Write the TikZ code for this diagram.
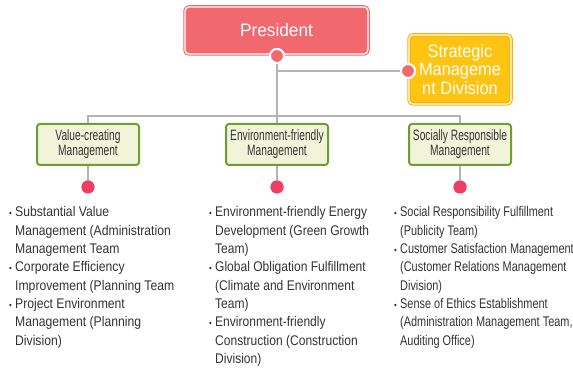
\documentclass[tikz,border=0pt]{standalone}
\usepackage{fontspec}
\setmainfont{Liberation Sans}
\newfontfamily\leftfont[FakeStretch=0.87]{Liberation Sans}
\newfontfamily\midfont[FakeStretch=0.86]{Liberation Sans}
\newfontfamily\rightfont[FakeStretch=0.78]{Liberation Sans}
\newfontfamily\boxfont[FakeStretch=0.68]{Liberation Sans}
\newfontfamily\presfont[FakeStretch=0.96]{Liberation Sans}
\newfontfamily\stratfont[FakeStretch=0.91]{Liberation Sans}
\definecolor{presred}{HTML}{F1686E}
\definecolor{stratyel}{HTML}{FFC312}
\definecolor{stratedge}{HTML}{F7B500}
\definecolor{boxgreen}{HTML}{6E9E30}
\definecolor{boxfill}{HTML}{F1F4D8}
\definecolor{dotred}{HTML}{EE3F63}
\definecolor{conngray}{HTML}{B4B4B4}
\definecolor{txtgray}{HTML}{333333}
\begin{document}
\begin{tikzpicture}[x=1pt,y=-1pt,
  presbox/.style={draw=presred, double=white, double distance=1.3pt, line width=1.1pt,
    fill=presred, rounded corners=4pt, minimum width=183pt, minimum height=47pt,
    inner sep=0pt, text=white, font=\presfont\fontsize{18}{18}\selectfont},
  stratbox/.style={draw=stratedge, double=white, double distance=1.3pt, line width=1.1pt,
    fill=stratyel, rounded corners=4pt, minimum width=102pt, minimum height=69pt,
    inner sep=0pt, text=white, align=center,
    font=\stratfont\fontsize{18}{18.5}\selectfont},
  greenbox/.style={draw=boxgreen, line width=2pt, fill=boxfill, rounded corners=3pt,
    minimum width=102pt, minimum height=41pt, inner sep=0pt, align=center,
    text=txtgray, font=\boxfont\fontsize{15}{15}\selectfont},
  topdot/.style={circle, fill=presred, draw=white, line width=2pt, minimum size=14pt, inner sep=0pt},
  lowdot/.style={circle, fill=dotred, minimum size=13pt, inner sep=0pt},
  conn/.style={draw=conngray, line width=1.3pt},
  listtxt/.style={anchor=base west, inner sep=0pt, align=left, text=txtgray},
  bul/.style={anchor=base west, inner sep=0pt, text=txtgray,
    font=\leftfont\fontsize{9}{18.3}\selectfont}
]
\useasboundingbox (0,0) rectangle (573,371);

% top boxes
\node[presbox] (pres) at (276.5,30.5) {President};
\node[stratbox] (strat) at (460,69.5) {Strategic\\Manageme\\nt Division};

% middle boxes
\node[greenbox] (b1) at (88,144.5) {Value-creating\\Management};
\node[greenbox] (b2) at (277,144.5) {Environment-friendly\\Management};
\node[greenbox] (b3) at (460,144.5) {Socially Responsible\\Management};

% dots
\node[topdot] (pd) at (277,56) {};
\node[topdot] (sd) at (408,71) {};
\node[lowdot] (d1) at (88,187) {};
\node[lowdot] (d2) at (277,187) {};
\node[lowdot] (d3) at (460,187) {};
\coordinate (j) at (277,116);

% connectors
\path[conn] (pd) -- (j);
\path[conn] (pd |- sd) -- (sd);
\path[conn] (b1.north) -- ++(0,-7) -| (b3.north);
\path[conn] (b2.north) -- (j);
\path[conn] (b1.south) -- (d1);
\path[conn] (b2.south) -- (d2);
\path[conn] (b3.south) -- (d3);

% dots on top of connectors
\node[topdot] at (pd) {};
\node[topdot] at (sd) {};
\node[lowdot] at (d1) {};
\node[lowdot] at (d2) {};
\node[lowdot] at (d3) {};

% left list (anchor = baseline of last line)
\begin{scope}[every node/.append style={font=\leftfont\fontsize{14}{18.3}\selectfont}]
\node[bul,font=\leftfont\fontsize{9}{18.3}\selectfont] (lb1) at (9,217) {•};
\node[listtxt] (lt1) at (15,253.6) {Substantial Value\\Management (Administration\\Management Team};
\node[bul,font=\leftfont\fontsize{9}{18.3}\selectfont] (lb2) at (9,271.9) {•};
\node[listtxt] (lt2) at (15,290.2) {Corporate Efficiency\\Improvement (Planning Team};
\node[bul,font=\leftfont\fontsize{9}{18.3}\selectfont] (lb3) at (9,308.5) {•};
\node[listtxt] (lt3) at (15,345.1) {Project Environment\\Management (Planning\\Division)};
\end{scope}

% middle list
\begin{scope}[every node/.append style={font=\midfont\fontsize{14}{18.3}\selectfont}]
\node[bul,font=\leftfont\fontsize{9}{18.3}\selectfont] (mb1) at (209,217) {•};
\node[listtxt] (mt1) at (215,253.6) {Environment-friendly Energy\\Development (Green Growth\\Team)};
\node[bul,font=\leftfont\fontsize{9}{18.3}\selectfont] (mb2) at (209,271.9) {•};
\node[listtxt] (mt2) at (215,308.5) {Global Obligation Fulfillment\\(Climate and Environment\\Team)};
\node[bul,font=\leftfont\fontsize{9}{18.3}\selectfont] (mb3) at (209,326.8) {•};
\node[listtxt] (mt3) at (215,363.4) {Environment-friendly\\Construction (Construction\\Division)};
\end{scope}

% right list
\begin{scope}[every node/.append style={font=\rightfont\fontsize{14}{18.3}\selectfont}]
\node[bul,font=\leftfont\fontsize{9}{18.3}\selectfont] (rb1) at (394,217) {•};
\node[listtxt] (rt1) at (400,235.3) {Social Responsibility Fulfillment\\(Publicity Team)};
\node[bul,font=\leftfont\fontsize{9}{18.3}\selectfont] (rb2) at (394,253.6) {•};
\node[listtxt] (rt2) at (400,290.2) {Customer Satisfaction Management\\(Customer Relations Management\\Division)};
\node[bul,font=\leftfont\fontsize{9}{18.3}\selectfont] (rb3) at (394,308.5) {•};
\node[listtxt] (rt3) at (400,345.1) {Sense of Ethics Establishment\\(Administration Management Team,\\Auditing Office)};
\end{scope}
\end{tikzpicture}
\end{document}
